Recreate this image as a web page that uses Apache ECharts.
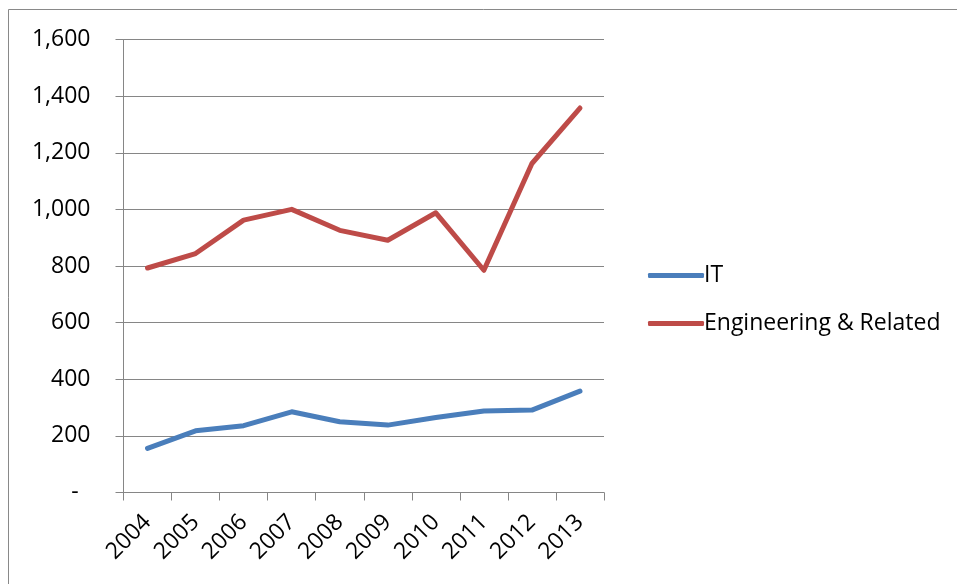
<!DOCTYPE html>
<html>
<head>
<meta charset="utf-8">
<script src="https://cdn.jsdelivr.net/npm/echarts@6/dist/echarts.min.js"></script>
<style>
  html, body { margin: 0; padding: 0; background: #fff; }
  #chart { width: 957px; height: 584px; }
</style>
</head>
<body>
<div id="chart"></div>
<script>
// Annual counts by field
const years = ['2004', '2005', '2006', '2007', '2008', '2009', '2010', '2011', '2012', '2013'];
const itValues = [156, 218, 236, 285, 250, 238, 265, 288, 291, 358];
const engineeringValues = [793, 844, 962, 1000, 926, 891, 988, 785, 1162, 1358];
const seriesNames = ['IT', 'Engineering & Related'];
const seriesColors = ['#4A7EBB', '#BE4B48'];

const FONT = '"Open Sans", Lato, sans-serif';
const FONT_SIZE = 23;

function formatTick(v) {
  if (v === 0) return '-  ';
  return v.toLocaleString('en-US');
}

const chart = echarts.init(document.getElementById('chart'), null, { renderer: 'canvas' });

chart.setOption({
  animation: false,
  backgroundColor: '#ffffff',
  graphic: [{
    type: 'rect',
    shape: { x: 8.5, y: 9.5, width: 1200, height: 1200 },
    style: { fill: 'none', stroke: '#898989', lineWidth: 1 },
    silent: true,
    z: 0
  }],
  grid: { left: 123.5, right: 353, top: 39.5, bottom: 91.5, containLabel: false },
  legend: {
    orient: 'vertical',
    left: 643,
    top: 259,
    itemWidth: 56,
    itemHeight: 5,
    itemGap: 25,
    icon: 'roundRect',
    textStyle: { fontFamily: FONT, fontSize: FONT_SIZE, color: '#000', padding: [0, 0, 0, -5] },
    data: seriesNames
  },
  xAxis: {
    type: 'category',
    data: years,
    boundaryGap: true,
    axisLine: { show: true, lineStyle: { color: '#868686', width: 1 } },
    axisTick: { show: true, length: 8, inside: false, lineStyle: { color: '#868686' } },
    axisLabel: {
      rotate: 45,
      margin: 26,
      interval: 0,
      fontFamily: FONT,
      fontSize: FONT_SIZE,
      color: '#000'
    },
    splitLine: { show: false }
  },
  yAxis: {
    type: 'value',
    min: 0,
    max: 1600,
    interval: 200,
    axisLine: { show: true, lineStyle: { color: '#868686', width: 1 } },
    axisTick: { show: true, length: 8, lineStyle: { color: '#868686' } },
    axisLabel: {
      margin: 33,
      fontFamily: FONT,
      fontSize: FONT_SIZE,
      color: '#000',
      formatter: formatTick
    },
    splitLine: { show: true, lineStyle: { color: '#868686', width: 1 } }
  },
  series: [
    {
      name: seriesNames[0],
      type: 'line',
      data: itValues,
      color: seriesColors[0],
      symbol: 'none',
      lineStyle: { width: 5, cap: 'round', join: 'round' }
    },
    {
      name: seriesNames[1],
      type: 'line',
      data: engineeringValues,
      color: seriesColors[1],
      symbol: 'none',
      lineStyle: { width: 5, cap: 'round', join: 'round' }
    }
  ]
});
</script>
</body>
</html>
